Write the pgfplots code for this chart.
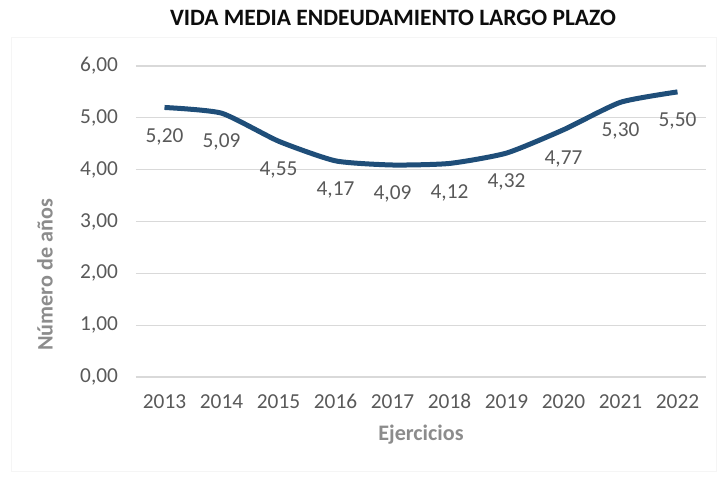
\documentclass[border=0pt]{standalone}
\usepackage{fontspec}
\setmainfont{Carlito}
\usepackage{pgfplots}
\pgfplotsset{compat=1.18}
\definecolor{linecol}{RGB}{31,78,121}
\definecolor{gridcol}{RGB}{217,217,217}
\definecolor{ticktxt}{RGB}{89,89,89}
\definecolor{labtxt}{RGB}{140,140,140}
\definecolor{titletxt}{RGB}{13,13,13}
\begin{document}
\begin{tikzpicture}[x=0.75pt,y=0.75pt]
\useasboundingbox (-136,-100) rectangle (585,377);
\draw[color=black!4, line width=0.75pt] (-124,-95) rectangle (580,339);
\begin{axis}[
  at={(0,0)}, anchor=south west,
  scale only axis,
  width=427.5pt, height=233.25pt,
  xmin=-0.5, xmax=9.5, ymin=0, ymax=6,
  xtick={0,...,9},
  xticklabels={2013,2014,2015,2016,2017,2018,2019,2020,2021,2022},
  ytick={0,1,2,3,4,5,6},
  yticklabel={\pgfmathprintnumber[fixed,zerofill,precision=2,use comma]{\tick}},
  /pgf/number format/assume math mode=true,
  axis line style={draw=none},
  major tick style={draw=none},
  ymajorgrids, grid style={gridcol, line width=0.9pt},
  tick label style={font=\fontsize{16}{18}\selectfont, text=ticktxt},
  xticklabel style={anchor=center, yshift=-18.5pt},
  yticklabel style={anchor=east, xshift=-10pt},
  every axis x label/.style={at={(axis description cs:0.5,0)}, anchor=center, yshift=-43.5pt},
  every axis y label/.style={at={(axis description cs:0,0.328)}, anchor=center, xshift=-68.25pt, rotate=90},
  label style={font=\bfseries\fontsize{16.6}{19}\selectfont, text=labtxt},
  xlabel={Ejercicios},
  ylabel={Número de años},
  clip=false,
]
\addplot[linecol, line width=3.75pt, smooth, tension=0.35,
  nodes near coords={\pgfmathprintnumber[fixed,zerofill,precision=2,use comma]{\pgfplotspointmeta}},
  nodes near coords style={anchor=center, yshift=-21.75pt, font=\fontsize{16}{18}\selectfont, text=ticktxt},
  point meta=y] coordinates {
(0,5.20) (1,5.09) (2,4.55) (3,4.17) (4,4.09) (5,4.12) (6,4.32) (7,4.77) (8,5.30) (9,5.50)
};
\end{axis}
\node[font=\bfseries\fontsize{17.6}{20}\selectfont, text=titletxt] at (257,359) {VIDA MEDIA ENDEUDAMIENTO LARGO PLAZO};
\end{tikzpicture}
\end{document}
